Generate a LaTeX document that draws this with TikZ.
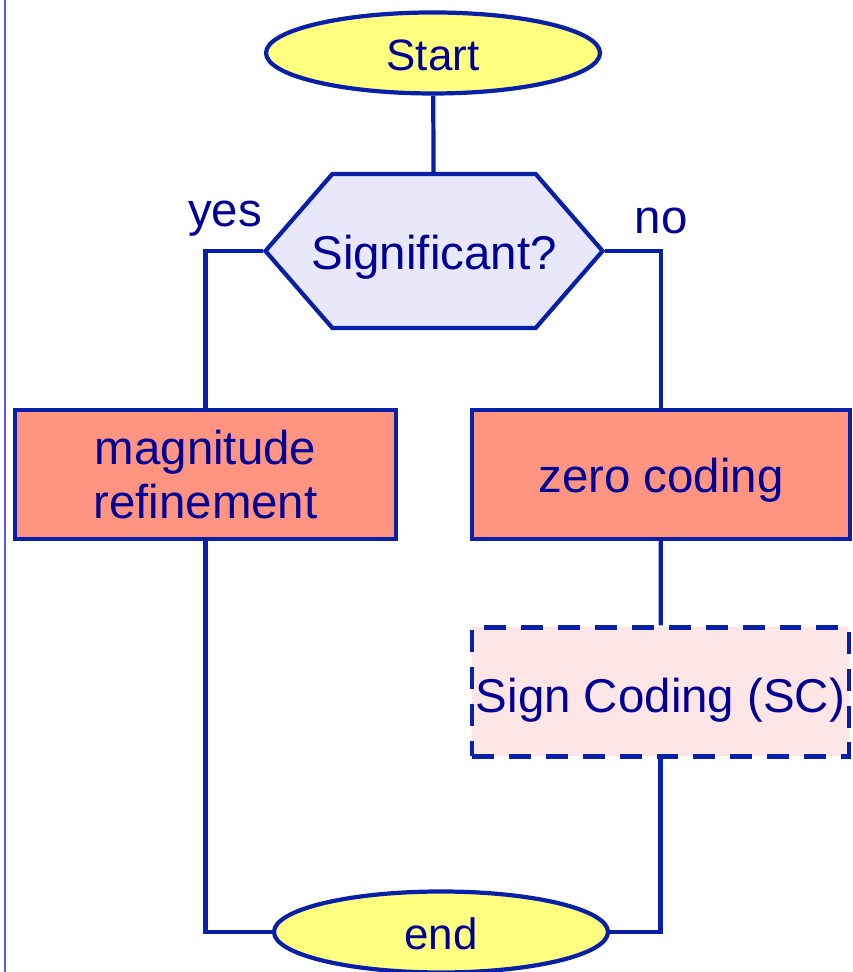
\documentclass[tikz,border=0pt]{standalone}
\usepackage{fontspec}
\setmainfont{Liberation Sans}
\usepackage{tikz}
\usetikzlibrary{shapes.geometric,shapes.symbols}
\definecolor{flowline}{RGB}{8,32,168}
\definecolor{flowtext}{RGB}{0,0,150}
\definecolor{termfill}{RGB}{255,255,128}
\definecolor{testfill}{RGB}{232,232,250}
\definecolor{stepfill}{RGB}{255,148,128}
\definecolor{optfill}{RGB}{255,230,230}

\begin{document}
\begin{tikzpicture}[line width=2.4pt,
  every node/.style={text=flowtext,font=\fontsize{27}{31}\selectfont,inner sep=0pt},
  oneline/.style={text height=#1,text depth=0pt},
  term/.style={oneline=19.4pt,font=\fontsize{25}{30}\selectfont,ellipse,draw=flowline,fill=termfill,minimum width=6.68cm,minimum height=1.62cm},
  test/.style={oneline=21.6pt,signal,signal to=west and east,signal pointer angle=98,inner xsep=-0.42cm,draw=flowline,fill=testfill,minimum height=3.08cm},
  stepbox/.style={rectangle,draw=flowline,fill=stepfill,minimum height=2.58cm,align=center},
  optbox/.style={stepbox,fill=optfill,dash pattern=on 12.5pt off 8.5pt}]
\useasboundingbox (0,0) rectangle (17.04,19.44);
\draw[line width=0.6pt,blue!65] (0.1,0)--(0.1,19.44);
\node[term] (start) at (8.66,18.38) {Start};
\node[test] (sig) at (8.68,14.42) {Significant?};
\node[stepbox,minimum width=7.62cm] (mag) at (4.11,9.95) {magnitude\\refinement};
\node[stepbox,oneline=21pt,minimum width=7.56cm] (zero) at (13.22,9.95) {zero coding};
\node[optbox,oneline=23.8pt,minimum width=7.54cm] (sign) at (13.21,5.6) {Sign Coding (SC)};
\node[term] (end) at (8.82,0.8) {end};
\node[anchor=base] (yes) at (4.5,14.9) {yes};
\node[anchor=base] (no) at (13.22,14.76) {no};
\draw[flowline] (start)--(sig);
\draw[flowline] (sig.west)-|(mag.north);
\draw[flowline] (sig.east)-|(zero.north);
\draw[flowline] (zero)--(sign);
\draw[flowline] (mag.south)|-(end.west);
\draw[flowline] (sign.south)|-(end.east);
\end{tikzpicture}
\end{document}
